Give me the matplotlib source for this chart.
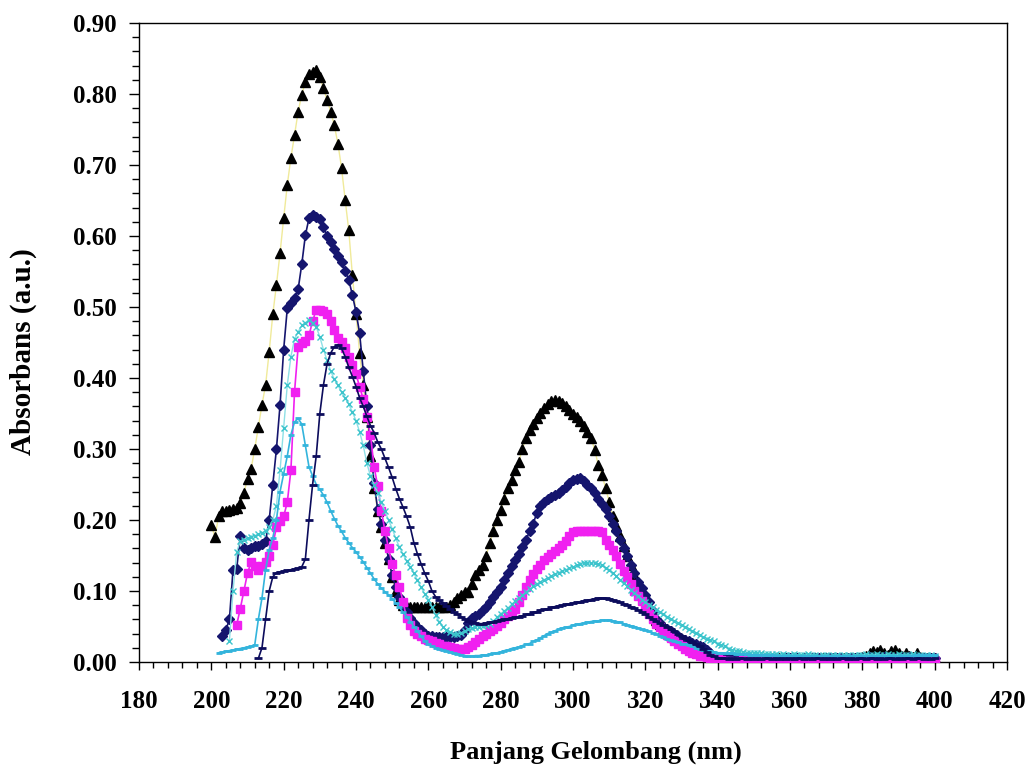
import numpy as np
import matplotlib
matplotlib.use("Agg")
import matplotlib.pyplot as plt
from matplotlib.ticker import MultipleLocator, FormatStrFormatter

# ---------------- data (absorbance vs wavelength, 1 nm steps) ----------------
black_start = 200
black_vals = [
    0.193, 0.176, 0.205, 0.212, 0.213, 0.214, 0.215, 0.217, 0.224, 0.238,
    0.258, 0.272, 0.300, 0.331, 0.362, 0.390, 0.437, 0.490, 0.531, 0.576,
    0.625, 0.672, 0.710, 0.742, 0.775, 0.799, 0.817, 0.828, 0.831, 0.834,
    0.824, 0.808, 0.792, 0.775, 0.756, 0.730, 0.696, 0.651, 0.608, 0.545,
    0.490, 0.435, 0.390, 0.345, 0.290, 0.245, 0.212, 0.190, 0.168, 0.145,
    0.120, 0.100, 0.087, 0.080, 0.078, 0.077, 0.077, 0.077, 0.077, 0.077,
    0.077, 0.077, 0.077, 0.077, 0.077, 0.078, 0.080, 0.085, 0.090, 0.095,
    0.098, 0.099, 0.110, 0.122, 0.130, 0.137, 0.150, 0.168, 0.185, 0.200,
    0.214, 0.230, 0.245, 0.256, 0.270, 0.282, 0.300, 0.315, 0.327, 0.335,
    0.343, 0.351, 0.358, 0.364, 0.367, 0.369, 0.368, 0.365, 0.361, 0.355,
    0.350, 0.345, 0.340, 0.333, 0.324, 0.315, 0.299, 0.277, 0.264, 0.245,
    0.226, 0.205, 0.191, 0.177, 0.163, 0.150, 0.136, 0.122, 0.110, 0.100,
    0.089, 0.079, 0.069, 0.059, 0.053, 0.047, 0.042, 0.038, 0.035, 0.032,
    0.029, 0.026, 0.024, 0.022, 0.020, 0.018, 0.017, 0.012, 0.006, 0.005,
    0.004, 0.004, 0.004, 0.005, 0.004, 0.005, 0.005, 0.006, 0.005, 0.005,
    0.006, 0.005, 0.006, 0.005, 0.005, 0.004, 0.005, 0.005, 0.004, 0.005,
    0.005, 0.004, 0.005, 0.004, 0.005, 0.004, 0.004, 0.005, 0.004, 0.005,
    0.004, 0.005, 0.005, 0.004, 0.005, 0.006, 0.005, 0.006, 0.005, 0.006,
    0.007, 0.009, 0.013, 0.015, 0.014, 0.017, 0.012, 0.010, 0.016, 0.017,
    0.012, 0.009, 0.013, 0.008, 0.007, 0.012, 0.007, 0.006, 0.006, 0.005,
    0.006,
]

navy_start = 203
navy_vals = [
    0.036, 0.045, 0.060, 0.130, 0.131, 0.177, 0.160,
    0.158, 0.160, 0.163, 0.164, 0.166, 0.170, 0.200, 0.250, 0.300, 0.362,
    0.440, 0.498, 0.505, 0.512, 0.525, 0.560, 0.601, 0.625, 0.630, 0.627,
    0.624, 0.612, 0.600, 0.592, 0.582, 0.572, 0.564, 0.551, 0.538, 0.517,
    0.493, 0.463, 0.410, 0.360, 0.305, 0.252, 0.215, 0.195, 0.172, 0.145,
    0.122, 0.105, 0.092, 0.080, 0.070, 0.062, 0.055, 0.050, 0.045, 0.040,
    0.037, 0.036, 0.035, 0.035, 0.035, 0.035, 0.035, 0.035, 0.036, 0.038,
    0.045, 0.055, 0.062, 0.065, 0.068, 0.073, 0.078, 0.085, 0.092, 0.099,
    0.106, 0.115, 0.125, 0.135, 0.143, 0.152, 0.162, 0.172, 0.184, 0.195,
    0.210, 0.220, 0.226, 0.230, 0.232, 0.235, 0.238, 0.242, 0.247, 0.252,
    0.256, 0.258, 0.259, 0.255, 0.250, 0.245, 0.238, 0.230, 0.222, 0.215,
    0.205, 0.195, 0.185, 0.172, 0.160, 0.149, 0.136, 0.125, 0.113, 0.104,
    0.095, 0.084, 0.072, 0.060, 0.055, 0.050, 0.046, 0.043, 0.040, 0.036,
    0.033, 0.031, 0.029, 0.027, 0.025, 0.023, 0.021, 0.017, 0.012, 0.008,
    0.006, 0.005, 0.005, 0.006, 0.005, 0.005, 0.004, 0.005, 0.005, 0.006,
    0.005, 0.005, 0.004, 0.005, 0.006, 0.005, 0.005, 0.004, 0.005, 0.005,
    0.005, 0.006, 0.005, 0.004, 0.005, 0.005, 0.006, 0.005, 0.005, 0.004,
    0.005, 0.005, 0.006, 0.005, 0.005, 0.004, 0.005, 0.006, 0.005, 0.005,
    0.006, 0.005, 0.007, 0.006, 0.005, 0.006, 0.007, 0.005, 0.006, 0.005,
    0.006, 0.005, 0.006, 0.007, 0.005, 0.006, 0.005, 0.006, 0.005, 0.006,
    0.005,
]

magenta_start = 207
magenta_vals = [
    0.052, 0.075, 0.100,
    0.125, 0.141, 0.135, 0.130, 0.135, 0.141, 0.150, 0.165, 0.190, 0.198,
    0.205, 0.225, 0.270, 0.380, 0.444, 0.449, 0.452, 0.460, 0.480, 0.496,
    0.496, 0.495, 0.490, 0.480, 0.468, 0.457, 0.451, 0.442, 0.430, 0.418,
    0.405, 0.388, 0.370, 0.345, 0.320, 0.275, 0.248, 0.213, 0.185, 0.160,
    0.138, 0.122, 0.106, 0.085, 0.062, 0.052, 0.044, 0.039, 0.036, 0.033,
    0.031, 0.029, 0.027, 0.025, 0.023, 0.022, 0.021, 0.020, 0.019, 0.019,
    0.019, 0.021, 0.024, 0.028, 0.032, 0.036, 0.039, 0.043, 0.047, 0.051,
    0.055, 0.060, 0.065, 0.070, 0.074, 0.084, 0.095, 0.106, 0.115, 0.124,
    0.131, 0.137, 0.143, 0.148, 0.152, 0.156, 0.160, 0.165, 0.171, 0.177,
    0.183, 0.184, 0.184, 0.184, 0.184, 0.184, 0.184, 0.184, 0.183, 0.172,
    0.165, 0.158, 0.149, 0.138, 0.128, 0.120, 0.110, 0.100, 0.093, 0.086,
    0.077, 0.068, 0.061, 0.054, 0.049, 0.044, 0.038, 0.034, 0.030, 0.026,
    0.022, 0.019, 0.016, 0.013, 0.011, 0.009, 0.008, 0.007, 0.006, 0.005,
    0.004, 0.003, 0.002, 0.001, 0.000, 0.000, 0.002, 0.003, 0.002, 0.003,
    0.003, 0.002, 0.003, 0.002, 0.002, 0.003, 0.002, 0.003, 0.003, 0.002,
    0.003, 0.002, 0.002, 0.003, 0.002, 0.003, 0.002, 0.002, 0.003, 0.002,
    0.003, 0.002, 0.003, 0.002, 0.002, 0.003, 0.003, 0.002, 0.003, 0.002,
    0.002, 0.003, 0.002, 0.003, 0.002, 0.002, 0.003, 0.002, 0.003, 0.002,
    0.003, 0.002, 0.002, 0.003, 0.002, 0.003, 0.002, 0.003, 0.002, 0.003,
    0.002,
]

turq_start = 205
turq_vals = [
    0.030, 0.100, 0.155, 0.170, 0.172,
    0.174, 0.176, 0.178, 0.180, 0.182, 0.185, 0.190, 0.200, 0.220, 0.270,
    0.330, 0.390, 0.430, 0.455, 0.465, 0.474, 0.478, 0.482, 0.478, 0.472,
    0.458, 0.440, 0.425, 0.410, 0.398, 0.390, 0.380, 0.372, 0.363, 0.352,
    0.340, 0.324, 0.305, 0.280, 0.262, 0.250, 0.238, 0.225, 0.212, 0.200,
    0.188, 0.174, 0.162, 0.152, 0.142, 0.134, 0.125, 0.115, 0.105, 0.096,
    0.088, 0.078, 0.066, 0.057, 0.050, 0.045, 0.042, 0.040, 0.040, 0.041,
    0.043, 0.046, 0.048, 0.049, 0.050, 0.051, 0.052, 0.054, 0.058, 0.063,
    0.068, 0.072, 0.076, 0.081, 0.086, 0.090, 0.094, 0.098, 0.103, 0.107,
    0.110, 0.113, 0.116, 0.118, 0.121, 0.124, 0.126, 0.128, 0.130, 0.132,
    0.134, 0.136, 0.138, 0.139, 0.139, 0.139, 0.139, 0.138, 0.136, 0.133,
    0.129, 0.125, 0.121, 0.116, 0.111, 0.107, 0.102, 0.097, 0.093, 0.088,
    0.084, 0.080, 0.077, 0.073, 0.070, 0.067, 0.064, 0.061, 0.058, 0.055,
    0.052, 0.049, 0.046, 0.043, 0.041, 0.038, 0.035, 0.033, 0.031, 0.029,
    0.026, 0.024, 0.022, 0.019, 0.017, 0.016, 0.015, 0.014, 0.013, 0.013,
    0.012, 0.012, 0.012, 0.011, 0.011, 0.011, 0.011, 0.010, 0.011, 0.010,
    0.010, 0.011, 0.010, 0.010, 0.010, 0.011, 0.010, 0.010, 0.009, 0.010,
    0.010, 0.009, 0.010, 0.010, 0.009, 0.010, 0.010, 0.009, 0.010, 0.010,
    0.010, 0.011, 0.010, 0.010, 0.011, 0.010, 0.010, 0.011, 0.010, 0.010,
    0.011, 0.010, 0.010, 0.010, 0.011, 0.010, 0.010, 0.009, 0.010, 0.010,
    0.009,
]

dash_start = 213
dash_vals = [
    0.005, 0.020, 0.060, 0.100, 0.120, 0.126, 0.127,
    0.128, 0.129, 0.130, 0.131, 0.132, 0.134, 0.145, 0.200, 0.250, 0.290,
    0.350, 0.390, 0.420, 0.435, 0.444, 0.447, 0.442, 0.430, 0.415, 0.402,
    0.388, 0.372, 0.360, 0.346, 0.333, 0.323, 0.310, 0.300, 0.287, 0.274,
    0.260, 0.244, 0.230, 0.218, 0.205, 0.190, 0.168, 0.152, 0.138, 0.125,
    0.114, 0.100, 0.092, 0.087, 0.083, 0.079, 0.075, 0.071, 0.067, 0.064,
    0.061, 0.058, 0.056, 0.055, 0.054, 0.054, 0.055, 0.056, 0.057, 0.058,
    0.059, 0.060, 0.061, 0.062, 0.063, 0.064, 0.065, 0.067, 0.068, 0.070,
    0.071, 0.073, 0.074, 0.075, 0.077, 0.078, 0.079, 0.080, 0.081, 0.082,
    0.083, 0.084, 0.085, 0.086, 0.087, 0.088, 0.089, 0.090, 0.090, 0.090,
    0.089, 0.088, 0.086, 0.084, 0.082, 0.080, 0.078, 0.076, 0.073, 0.070,
    0.067, 0.064, 0.061, 0.058, 0.055, 0.052, 0.049, 0.046, 0.043, 0.040,
    0.037, 0.034, 0.031, 0.028, 0.026, 0.022, 0.018, 0.014, 0.010, 0.008,
    0.006, 0.005, 0.005, 0.004, 0.005, 0.004, 0.005, 0.005, 0.004, 0.005,
    0.004, 0.005, 0.004, 0.005, 0.005, 0.004, 0.005, 0.004, 0.005, 0.004,
    0.005, 0.004, 0.005, 0.005, 0.004, 0.005, 0.004, 0.005, 0.005, 0.004,
    0.005, 0.004, 0.005, 0.004, 0.005, 0.005, 0.004, 0.005, 0.004, 0.005,
    0.005, 0.004, 0.005, 0.005, 0.004, 0.005, 0.004, 0.005, 0.005, 0.004,
    0.005, 0.004, 0.005, 0.005, 0.004, 0.005, 0.005, 0.004, 0.005, 0.004,
    0.005,
]

sky_start = 202
sky_vals = [
    0.013, 0.014, 0.015, 0.016, 0.017, 0.018, 0.019, 0.020,
    0.021, 0.022, 0.024, 0.060, 0.090, 0.130, 0.158, 0.175, 0.200, 0.240,
    0.265, 0.290, 0.320, 0.338, 0.343, 0.335, 0.305, 0.275, 0.262, 0.250,
    0.243, 0.235, 0.225, 0.213, 0.202, 0.192, 0.184, 0.175, 0.168, 0.161,
    0.155, 0.148, 0.141, 0.133, 0.125, 0.117, 0.110, 0.104, 0.099, 0.094,
    0.089, 0.083, 0.077, 0.070, 0.064, 0.057, 0.050, 0.043, 0.036, 0.030,
    0.025, 0.022, 0.020, 0.018, 0.017, 0.015, 0.014, 0.012, 0.011, 0.010,
    0.009, 0.008, 0.008, 0.009, 0.009, 0.010, 0.010, 0.011, 0.012, 0.013,
    0.014, 0.016, 0.017, 0.019, 0.020, 0.021, 0.023, 0.025, 0.026, 0.029,
    0.031, 0.034, 0.037, 0.040, 0.042, 0.044, 0.046, 0.048, 0.049, 0.050,
    0.052, 0.053, 0.054, 0.055, 0.056, 0.057, 0.058, 0.058, 0.059, 0.059,
    0.059, 0.058, 0.057, 0.056, 0.054, 0.052, 0.051, 0.050, 0.048, 0.046,
    0.045, 0.043, 0.041, 0.039, 0.037, 0.035, 0.033, 0.031, 0.029, 0.028,
    0.026, 0.025, 0.024, 0.022, 0.020, 0.019, 0.017, 0.016, 0.015, 0.014,
    0.013, 0.013, 0.012, 0.012, 0.012, 0.011, 0.011, 0.011, 0.011, 0.010,
    0.010, 0.010, 0.010, 0.010, 0.009, 0.010, 0.009, 0.009, 0.009, 0.009,
    0.009, 0.009, 0.009, 0.008, 0.009, 0.009, 0.008, 0.009, 0.008, 0.009,
    0.008, 0.009, 0.008, 0.008, 0.009, 0.008, 0.008, 0.009, 0.008, 0.008,
    0.009, 0.008, 0.008, 0.009, 0.008, 0.009, 0.008, 0.008, 0.009, 0.008,
    0.009, 0.009, 0.008, 0.009, 0.009, 0.010, 0.009, 0.010, 0.009, 0.010,
    0.010,
]

x_ticks = [180, 200, 220, 240, 260, 280, 300, 320, 340, 360, 380, 400, 420]
y_ticks = [0.0, 0.1, 0.2, 0.3, 0.4, 0.5, 0.6, 0.7, 0.8, 0.9]
x_label = "Panjang Gelombang (nm)"
y_label = "Absorbans (a.u.)"

# ---------------- figure ----------------
W, H = 1032, 773
fig = plt.figure(figsize=(W / 100, H / 100), dpi=100)
L, R, T, B = 139, 1007, 23, 662
ax = fig.add_axes([L / W, 1 - B / H, (R - L) / W, (B - T) / H])

def wl(start, vals):
    return start + np.arange(len(vals))

ax.plot(wl(black_start, black_vals), black_vals, color="#F0EA9A", lw=1.0,
        marker="^", ms=7.5, mfc="black", mec="black", zorder=3)
ax.plot(wl(navy_start, navy_vals), navy_vals, color="#15156E", lw=1.2,
        marker="D", ms=5, mfc="#15156E", mec="#15156E", zorder=4)
ax.plot(wl(magenta_start, magenta_vals), magenta_vals, color="#F020F0", lw=1.2,
        marker="s", ms=6, mfc="#F020F0", mec="#F020F0", zorder=5)
ax.plot(wl(turq_start, turq_vals), turq_vals, color="#8EE0E6", lw=1.0,
        marker="x", ms=4, mew=1.0, mfc="#3CC4CC", mec="#3CC4CC", zorder=6)
ax.plot(wl(dash_start, dash_vals), dash_vals, color="#0C0C5C", lw=1.2,
        marker="_", ms=6, mew=2.0, mec="#0C0C5C", zorder=7)
ax.plot(wl(sky_start, sky_vals), sky_vals, color="#33B4DC", lw=1.2,
        marker="_", ms=5, mew=2.0, mec="#33B4DC", zorder=6)

ax.set_xlim(180, 420)
ax.set_ylim(0, 0.9)
ax.set_xticks(x_ticks)
ax.set_yticks(y_ticks)
ax.xaxis.set_minor_locator(MultipleLocator(4))
ax.yaxis.set_minor_locator(MultipleLocator(0.02))
ax.yaxis.set_major_formatter(FormatStrFormatter("%.2f"))

for s in ax.spines.values():
    s.set_linewidth(1.0)
    s.set_color("black")

ax.tick_params(axis="both", which="both", direction="out", top=False, right=False,
               width=1.0, color="black")
ax.tick_params(axis="x", which="major", length=6, pad=14)
ax.tick_params(axis="x", which="minor", length=4)
ax.tick_params(axis="y", which="major", length=7, pad=9)
ax.tick_params(axis="y", which="minor", length=5)

for lab in ax.get_xticklabels() + ax.get_yticklabels():
    lab.set_fontfamily("Liberation Serif")
    lab.set_fontweight("bold")
    lab.set_fontsize(18)

fig.text(596 / W, 1 - 752 / H, x_label, ha="center", va="center",
         family="Liberation Serif", weight="bold", size=19)
fig.text(23 / W, 1 - 352 / H, y_label, ha="center", va="center", rotation=90,
         family="Liberation Serif", weight="bold", size=21)

fig.savefig("out.png", dpi=100)
